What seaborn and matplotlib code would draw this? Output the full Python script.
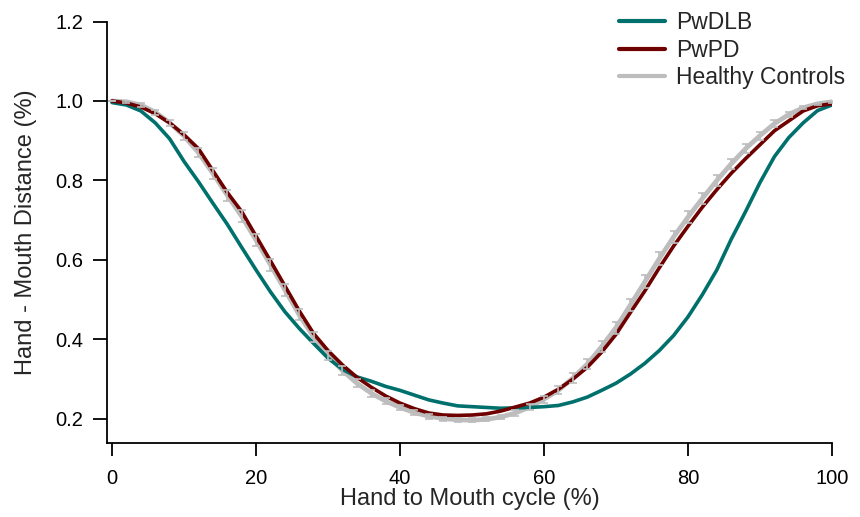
import matplotlib
matplotlib.use("Agg")
import matplotlib.pyplot as plt
from matplotlib.lines import Line2D
import seaborn as sns
import pandas as pd

# hand to mouth cycle, sampled every 2 %
cycle = list(range(0, 101, 2))

pwdlb = [0.996, 0.990, 0.975, 0.945, 0.905, 0.848, 0.797, 0.743, 0.690, 0.632,
         0.575, 0.520, 0.470, 0.428, 0.390, 0.353, 0.325, 0.306, 0.295, 0.282,
         0.272, 0.260, 0.248, 0.240, 0.233, 0.231, 0.229, 0.227, 0.228, 0.229,
         0.231, 0.234, 0.243, 0.255, 0.272, 0.290, 0.313, 0.340, 0.372, 0.410,
         0.457, 0.513, 0.575, 0.652, 0.722, 0.795, 0.860, 0.908, 0.945, 0.976,
         0.990]

pwpd = [1.000, 0.995, 0.985, 0.968, 0.945, 0.915, 0.880, 0.825, 0.770, 0.722,
        0.660, 0.598, 0.535, 0.472, 0.415, 0.372, 0.336, 0.305, 0.280, 0.258,
        0.240, 0.226, 0.215, 0.210, 0.209, 0.210, 0.213, 0.220, 0.230, 0.240,
        0.255, 0.275, 0.300, 0.330, 0.368, 0.413, 0.468, 0.522, 0.580, 0.635,
        0.685, 0.733, 0.777, 0.818, 0.855, 0.890, 0.925, 0.950, 0.975, 0.988,
        0.993]

controls = [1.000, 0.998, 0.990, 0.972, 0.945, 0.912, 0.870, 0.818, 0.763, 0.710,
            0.650, 0.588, 0.525, 0.462, 0.406, 0.360, 0.322, 0.290, 0.265, 0.245,
            0.229, 0.216, 0.207, 0.201, 0.198, 0.197, 0.199, 0.205, 0.215, 0.230,
            0.250, 0.272, 0.303, 0.338, 0.382, 0.430, 0.487, 0.545, 0.603, 0.658,
            0.708, 0.755, 0.800, 0.842, 0.880, 0.913, 0.943, 0.966, 0.983, 0.993,
            0.998]

controls_sem = [0.000, 0.002, 0.004, 0.006, 0.008, 0.010, 0.012, 0.013, 0.014, 0.015,
                0.015, 0.015, 0.015, 0.014, 0.013, 0.012, 0.011, 0.010, 0.009, 0.008,
                0.007, 0.006, 0.006, 0.005, 0.005, 0.005, 0.005, 0.006, 0.007, 0.008,
                0.009, 0.010, 0.012, 0.013, 0.014, 0.015, 0.016, 0.016, 0.016, 0.016,
                0.015, 0.014, 0.013, 0.012, 0.011, 0.010, 0.008, 0.006, 0.004, 0.003,
                0.002]

labels = ["PwDLB", "PwPD", "Healthy Controls"]
colors = ["#00706c", "#6e0000", "#bdbdbd"]

sns.set_style("ticks")
plt.rcParams['font.family'] = ['Liberation Sans', 'DejaVu Sans']

fig = plt.figure(figsize=(8.6, 5.17), dpi=100)
ax = fig.add_axes([107 / 860, 74 / 517, 725 / 860, 421.5 / 517])

df = pd.DataFrame({"cycle": cycle, "PwDLB": pwdlb, "PwPD": pwpd,
                   "Healthy Controls": controls})

# controls: grey line with small error bars
sns.lineplot(data=df, x="cycle", y="Healthy Controls", color=colors[2],
             lw=3.4, ax=ax, zorder=2)
sns.lineplot(data=df, x="cycle", y="PwDLB", color=colors[0], lw=2.6,
             ax=ax, zorder=2.5)
sns.lineplot(data=df, x="cycle", y="PwPD", color=colors[1], lw=2.6,
             ax=ax, zorder=3)
ax.errorbar(cycle, controls, yerr=controls_sem, fmt="none", ecolor=colors[2],
            elinewidth=1.2, capsize=3, capthick=1.2, zorder=4)

ax.set_xlim(-0.7, 100)
ax.set_ylim(0.1396, 1.2)
ax.set_xticks([0, 20, 40, 60, 80, 100])
ax.set_yticks([0.2, 0.4, 0.6, 0.8, 1.0, 1.2])
ax.set_yticklabels(["0.2", "0.4", "0.6", "0.8", "1.0", "1.2"])

sns.despine(ax=ax)
for s in ["left", "bottom"]:
    ax.spines[s].set_linewidth(1.3)
    ax.spines[s].set_color("black")
ax.tick_params(axis="y", direction="out", length=10, width=1.3, pad=7,
               labelsize=14.5, colors="black")
ax.tick_params(axis="x", direction="out", length=9, width=1.3, pad=10,
               labelsize=14.5, colors="black")

ax.set_xlabel("Hand to Mouth cycle (%)", fontsize=17, labelpad=0)
ax.set_ylabel("Hand - Mouth Distance (%)", fontsize=17, labelpad=13)

handles = [Line2D([], [], color=c, lw=3) for c in colors]
fig.legend(handles, labels, loc="upper left", bbox_to_anchor=(619 / 860, 1 - 11 / 517),
           frameon=False, fontsize=16.5, handlelength=2.0, handletextpad=0.5,
           labelspacing=0.2, borderpad=0, borderaxespad=0)

fig.savefig("out.png", dpi=100)
